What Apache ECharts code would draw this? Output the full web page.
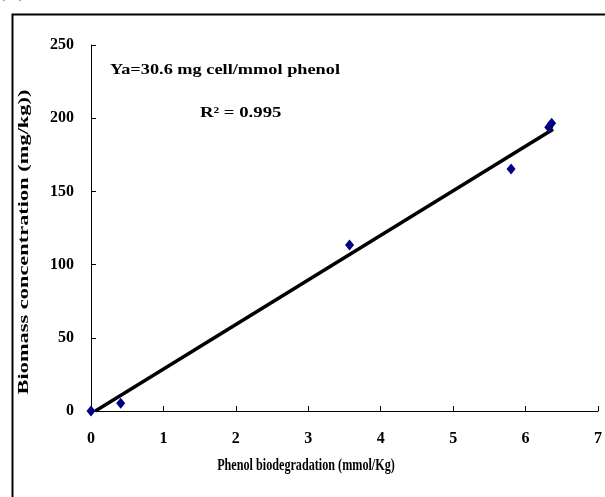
<!DOCTYPE html>
<html><head><meta charset="utf-8">
<script src="https://cdn.jsdelivr.net/npm/echarts@6/dist/echarts.min.js"></script>
<style>html,body{margin:0;padding:0;background:#fff}#c{width:605px;height:497px}</style>
</head><body><div id="c"></div>
<script>
var pointsX = [0, 0.41, 3.57, 5.80, 6.32, 6.36];
var pointsY = [0, 5.3, 113.4, 165.3, 193.8, 196.5];
var trendX = [0.06, 6.38];
var trendY = [0, 192.4];
var yTicks = {min: 0, max: 250, interval: 50};
var xTicks = {min: 0, max: 7, interval: 1};
var xName = 'Phenol biodegradation (mmol/Kg)';
var yName = 'Biomass concentration (mg/kg))';
var note1 = 'Ya=30.6 mg cell/mmol phenol';
var note2 = 'R² = 0.995';
var header = '(w) 30 cultures';

var scatterData = pointsX.map(function(x, i){ return [x, pointsY[i]]; });
var lineData = trendX.map(function(x, i){ return [x, trendY[i]]; });
var font = '"Liberation Serif", "Times New Roman", serif';

var chart = echarts.init(document.getElementById('c'));
chart.setOption({
  animation: false,
  backgroundColor: '#fff',
  grid: {left: 91, top: 45, right: 5, bottom: 86},
  xAxis: {
    type: 'value', min: xTicks.min, max: xTicks.max, interval: xTicks.interval,
    axisLine: {show: true, lineStyle: {color: '#000', width: 1}},
    axisTick: {show: true, inside: true, length: 5, lineStyle: {color: '#000'}},
    axisLabel: {fontFamily: font, fontWeight: 'bold', fontSize: 16, color: '#000', margin: 20},
    splitLine: {show: false}
  },
  yAxis: {
    type: 'value', min: yTicks.min, max: yTicks.max, interval: yTicks.interval,
    axisLine: {show: true, lineStyle: {color: '#000', width: 1}},
    axisTick: {show: true, inside: true, length: 5, lineStyle: {color: '#000'}},
    axisLabel: {fontFamily: font, fontWeight: 'bold', fontSize: 16, color: '#000', margin: 17},
    splitLine: {show: false}
  },
  graphic: [
    {type: 'rect', left: 10, top: 12, shape: {width: 620, height: 520},
     style: {fill: 'none', stroke: '#000', lineWidth: 2}, z: -1},
    {type: 'text', x: 0, y: 2,
     style: {text: header, font: 'italic 20px ' + font, fill: '#777', verticalAlign: 'bottom'}},
    {type: 'text', x: 110, y: 70, scaleX: 1.22,
     style: {text: note1, font: 'bold 15px ' + font, fill: '#000', verticalAlign: 'middle'}},
    {type: 'text', x: 200, y: 113, scaleX: 1.25,
     style: {text: note2, font: 'bold 15px ' + font, fill: '#000', verticalAlign: 'middle'}},
    {type: 'text', x: 306, y: 466, scaleX: 0.76,
     style: {text: xName, font: 'bold 16px ' + font, fill: '#000', align: 'center', verticalAlign: 'middle'}},
    {type: 'text', x: 24, y: 242, rotation: Math.PI / 2, scaleX: 1.6,
     style: {text: yName, font: 'bold 14px ' + font, fill: '#000', align: 'center', verticalAlign: 'middle'}}
  ],
  series: [
    {type: 'line', data: lineData, symbol: 'none',
     lineStyle: {color: '#000', width: 3.5}, z: 2},
    {type: 'scatter', data: scatterData, symbol: 'diamond', symbolSize: [9, 11],
     itemStyle: {color: '#000080', opacity: 1}, z: 3}
  ]
});
</script></body></html>
